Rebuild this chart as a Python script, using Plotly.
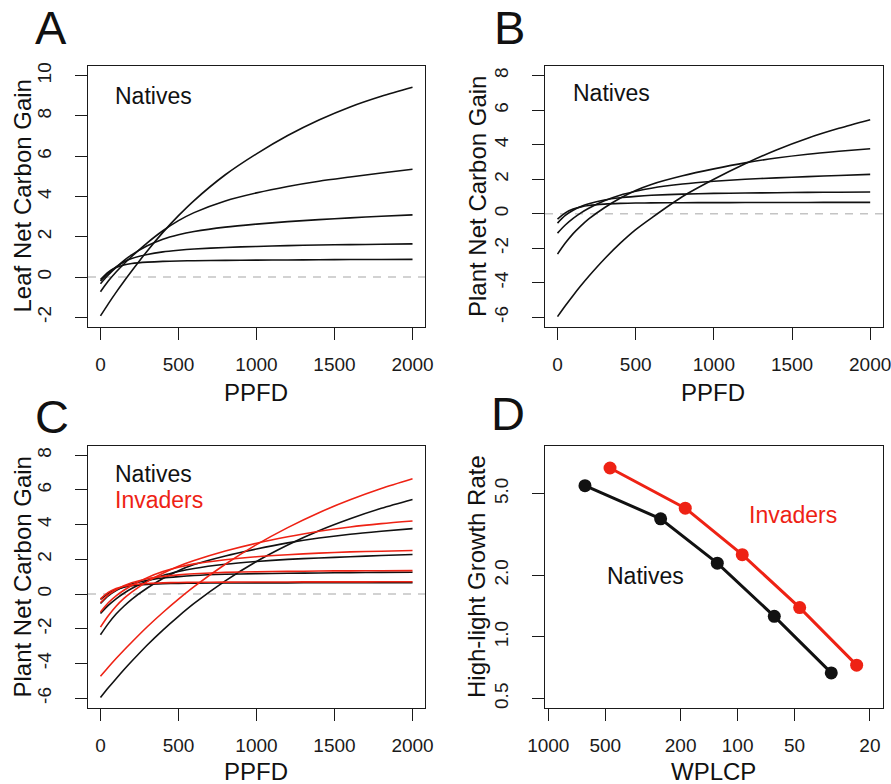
import plotly.graph_objects as go

# ---------------- data ----------------
ppfd = [0, 50, 100, 150, 200, 300, 400, 500, 600, 800, 1000, 1200, 1400, 1600, 1800, 2000]

# Panel A: leaf net carbon gain, natives
leaf_n1 = [-1.93, -1.33, -0.76, -0.22, 0.30, 1.30, 2.22, 3.05, 3.80, 5.08, 6.12, 7.03, 7.80, 8.45, 8.98, 9.43]
leaf_n2 = [-0.73, -0.20, 0.25, 0.65, 1.02, 1.70, 2.30, 2.80, 3.20, 3.78, 4.18, 4.50, 4.76, 4.97, 5.17, 5.35]
leaf_n3 = [-0.33, 0.10, 0.48, 0.82, 1.10, 1.55, 1.88, 2.10, 2.26, 2.48, 2.63, 2.75, 2.85, 2.94, 3.02, 3.09]
leaf_n4 = [-0.20, 0.20, 0.50, 0.75, 0.92, 1.12, 1.25, 1.33, 1.39, 1.47, 1.52, 1.56, 1.59, 1.61, 1.63, 1.65]
leaf_n5 = [-0.12, 0.25, 0.47, 0.60, 0.67, 0.74, 0.78, 0.80, 0.81, 0.83, 0.84, 0.85, 0.86, 0.87, 0.875, 0.88]

# Panel B: plant net carbon gain, natives
plant_n1 = [-5.96, -5.33, -4.73, -4.16, -3.62, -2.62, -1.72, -0.92, -0.25, 1.00, 2.00, 2.90, 3.70, 4.38, 4.95, 5.45]
plant_n2 = [-2.34, -1.70, -1.15, -0.70, -0.30, 0.35, 0.90, 1.35, 1.70, 2.20, 2.60, 2.95, 3.23, 3.45, 3.62, 3.77]
plant_n3 = [-1.12, -0.65, -0.27, 0.05, 0.32, 0.75, 1.07, 1.30, 1.48, 1.72, 1.88, 2.00, 2.08, 2.15, 2.22, 2.28]
plant_n4 = [-0.54, -0.10, 0.20, 0.42, 0.58, 0.80, 0.93, 1.01, 1.07, 1.14, 1.18, 1.20, 1.22, 1.24, 1.25, 1.26]
plant_n5 = [-0.31, 0.05, 0.27, 0.40, 0.48, 0.56, 0.60, 0.62, 0.63, 0.64, 0.645, 0.65, 0.655, 0.655, 0.66, 0.66]

# Panel C: natives (steepest curve as drawn in C), invaders
plantc_n1 = [-5.96, -5.40, -4.87, -4.36, -3.87, -2.93, -2.07, -1.28, -0.54, 0.76, 1.88, 2.83, 3.65, 4.34, 4.94, 5.45]
plant_i1 = [-4.73, -4.21, -3.71, -3.23, -2.77, -1.88, -1.06, -0.29, 0.43, 1.72, 2.85, 3.83, 4.69, 5.43, 6.08, 6.64]
plant_i2 = [-1.90, -1.25, -0.70, -0.25, 0.12, 0.72, 1.20, 1.60, 1.93, 2.48, 2.93, 3.30, 3.62, 3.87, 4.06, 4.21]
plant_i3 = [-1.03, -0.50, -0.10, 0.22, 0.50, 0.95, 1.30, 1.55, 1.74, 1.98, 2.15, 2.27, 2.36, 2.43, 2.47, 2.51]
plant_i4 = [-0.50, -0.05, 0.25, 0.48, 0.65, 0.88, 1.02, 1.11, 1.17, 1.25, 1.29, 1.31, 1.33, 1.34, 1.345, 1.35]
plant_i5 = [-0.27, 0.10, 0.32, 0.45, 0.53, 0.61, 0.65, 0.67, 0.68, 0.69, 0.70, 0.70, 0.705, 0.705, 0.71, 0.71]

# Panel D: high-light growth rate vs WPLCP
wplcp_natives = [640, 255, 128, 64, 32]
growth_natives = [5.47, 3.77, 2.29, 1.26, 0.667]
wplcp_invaders = [472, 189, 94.5, 47, 23.5]
growth_invaders = [6.67, 4.25, 2.52, 1.39, 0.728]

ppfd_ticks = [0, 500, 1000, 1500, 2000]
ppfd_labels = ["0", "500", "1000", "1500", "2000"]
leaf_ticks = [-2, 0, 2, 4, 6, 8, 10]
leaf_labels = ["-2", "0", "2", "4", "6", "8", "10"]
plant_ticks = [-6, -4, -2, 0, 2, 4, 6, 8]
plant_labels = ["-6", "-4", "-2", "0", "2", "4", "6", "8"]
wplcp_ticks = [1000, 500, 200, 100, 50, 20]
wplcp_labels = ["1000", "500", "200", "100", "50", "20"]
growth_ticks = [0.5, 1.0, 2.0, 5.0]
growth_labels = ["0.5", "1.0", "2.0", "5.0"]

# ---------------- figure ----------------
W, H = 891, 784
FONT = "Liberation Sans, Arial, Helvetica, sans-serif"
BLACK = "#111111"
RED = "#ee2214"
AX = "#1a1a1a"

def px(x):
    return x / W

def py(y):
    return 1 - y / H

fig = go.Figure()

def curve(xa, ya, y, color):
    fig.add_trace(go.Scatter(x=ppfd, y=y, mode="lines", xaxis=xa, yaxis=ya,
                             line=dict(color=color, width=1.6, shape="spline", smoothing=0.8),
                             hoverinfo="skip"))

for s in [leaf_n1, leaf_n2, leaf_n3, leaf_n4, leaf_n5]:
    curve("x", "y", s, BLACK)
for s in [plant_n1, plant_n2, plant_n3, plant_n4, plant_n5]:
    curve("x2", "y2", s, BLACK)
for s in [plantc_n1, plant_n2, plant_n3, plant_n4, plant_n5]:
    curve("x3", "y3", s, BLACK)
for s in [plant_i1, plant_i2, plant_i3, plant_i4, plant_i5]:
    curve("x3", "y3", s, RED)

fig.add_trace(go.Scatter(x=wplcp_natives, y=growth_natives, mode="lines+markers", xaxis="x4", yaxis="y4",
                         line=dict(color=BLACK, width=3), marker=dict(color=BLACK, size=13)))
fig.add_trace(go.Scatter(x=wplcp_invaders, y=growth_invaders, mode="lines+markers", xaxis="x4", yaxis="y4",
                         line=dict(color=RED, width=3), marker=dict(color=RED, size=13)))

common = dict(showline=True, mirror=True, linecolor=AX, linewidth=1.3, ticks="outside",
              ticklen=12, tickwidth=1.3, tickcolor=AX, showgrid=False, zeroline=False,
              automargin=False, ticklabeloverflow="allow",
              tickfont=dict(family=FONT, size=19, color=AX))

xdomL = [px(88), px(425)]
xdomR = [px(545), px(882.7)]
ydomT = [py(327), py(66)]
ydomB = [py(708), py(445.5)]

xcfg = dict(common, tickvals=ppfd_ticks, ticktext=ppfd_labels, ticklabelstandoff=8)
ycfg = dict(common, tickangle=-90, ticklabelstandoff=16)

fig.update_layout(
    width=W, height=H,
    margin=dict(l=0, r=0, t=0, b=0, autoexpand=False),
    paper_bgcolor="white", plot_bgcolor="white",
    showlegend=False,
    xaxis=dict(xcfg, domain=xdomL, range=[-80, 2080], anchor="y"),
    yaxis=dict(ycfg, domain=ydomT, range=[-2.48, 10.48], tickvals=leaf_ticks, ticktext=leaf_labels, anchor="x"),
    xaxis2=dict(xcfg, domain=xdomR, range=[-80, 2080], anchor="y2"),
    yaxis2=dict(ycfg, domain=ydomT, range=[-6.56, 8.56], tickvals=plant_ticks, ticktext=plant_labels, anchor="x2"),
    xaxis3=dict(xcfg, domain=xdomL, range=[-80, 2080], anchor="y3"),
    yaxis3=dict(ycfg, domain=ydomB, range=[-6.56, 8.56], tickvals=plant_ticks, ticktext=plant_labels, anchor="x3"),
    xaxis4=dict(common, domain=xdomR, type="log", range=[3.0174, 1.2335], anchor="y4",
                tickvals=wplcp_ticks, ticktext=wplcp_labels, ticklabelstandoff=8),
    yaxis4=dict(common, domain=ydomB, type="log", range=[-0.347, 0.934], anchor="x4",
                tickvals=growth_ticks, ticktext=growth_labels, tickangle=-90, ticklabelstandoff=16),
)

# zero reference lines
for xr, yr in [("x", "y"), ("x2", "y2"), ("x3", "y3")]:
    fig.add_shape(type="line", xref=f"{xr} domain", yref=yr, x0=0, x1=1, y0=0, y1=0,
                  line=dict(color="#c4c4c4", width=1.5, dash="8px,7px"), layer="below")

def ann(text, x, y, size, color=BLACK, xanchor="center", angle=0):
    fig.add_annotation(text=text, x=px(x), y=py(y), xref="paper", yref="paper",
                       xanchor=xanchor, yanchor="middle", showarrow=False, textangle=angle,
                       font=dict(family=FONT, size=size, color=color))

# panel letters
ann("A", 51, 28, 47)
ann("B", 510, 28, 47)
ann("C", 51.5, 416, 47)
ann("D", 507.5, 413, 47)

# axis titles
ann("PPFD", 256.4, 392, 24)
ann("PPFD", 713.4, 392, 24)
ann("PPFD", 256.4, 771, 24)
ann("WPLCP", 713.5, 771, 24)
ann("Leaf Net Carbon Gain", 22, 196.5, 24, angle=-90)
ann("Plant Net Carbon Gain", 477.5, 196.5, 24, angle=-90)
ann("Plant Net Carbon Gain", 21.5, 577, 24, angle=-90)
ann("High-light Growth Rate", 476, 577, 24, angle=-90)

# in-panel labels
ann("Natives", 113, 96, 23, xanchor="left")
ann("Natives", 571, 93.5, 23, xanchor="left")
ann("Natives", 113, 474, 23, xanchor="left")
ann("Invaders", 113, 500, 23, color=RED, xanchor="left")
ann("Invaders", 747, 515, 23, color=RED, xanchor="left")
ann("Natives", 605, 576, 23, xanchor="left")

fig.write_html("out.html", config={"displayModeBar": False},
               post_script="document.body.style.margin='0';document.body.style.overflow='hidden';")
